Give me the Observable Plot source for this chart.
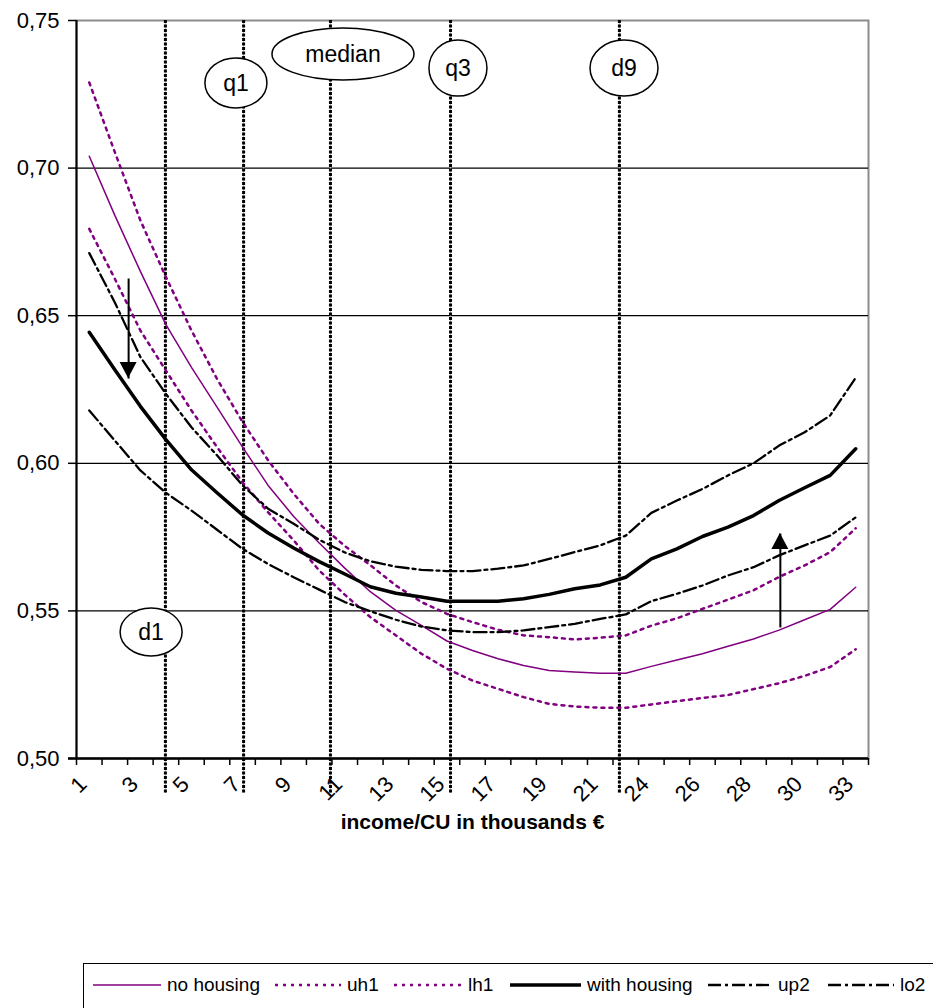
<!DOCTYPE html>
<html><head><meta charset="utf-8">
<script src="https://cdn.jsdelivr.net/npm/d3@7"></script>
<script src="https://cdn.jsdelivr.net/npm/@observablehq/plot@0.6"></script>
<style>
body{margin:0;background:#fff;font-family:"Liberation Sans",Arial,sans-serif;overflow:hidden;width:933px;height:1008px;position:relative}
#legend{position:absolute;left:83px;top:963px;width:880px;height:70px;border:1.5px solid #000;box-sizing:border-box}
.item{position:absolute;top:0;height:42px;display:flex;align-items:center;font-size:19px;color:#000}
.item svg{margin-right:6px}
</style></head><body><div id="chart"></div><div id="legend"></div>
<script>
// ---- data ----
const tickLabels = ["1","3","5","7","9","11","13","15","17","19","21","24","26","28","30","33"];
const seriesNames = ["no housing","uh1","lh1","with housing","up2","lo2"];
const noHousing = [0.704,0.684,0.665,0.647,0.6325,0.619,0.6055,0.5925,0.582,0.573,0.5645,0.5565,0.5502,0.5451,0.5398,0.5366,0.5338,0.5315,0.5298,0.5293,0.5289,0.5289,0.5312,0.5334,0.5355,0.538,0.5405,0.5435,0.547,0.5505,0.558];
const uh1 = [0.729,0.7054,0.6823,0.6631,0.645,0.6286,0.614,0.601,0.5897,0.5795,0.572,0.5655,0.5586,0.553,0.549,0.5462,0.5436,0.5417,0.5411,0.5403,0.5409,0.5417,0.545,0.5475,0.5507,0.5538,0.557,0.5615,0.5654,0.5699,0.578];
const lh1 = [0.6794,0.6625,0.645,0.6314,0.6179,0.6055,0.5936,0.5834,0.5739,0.5637,0.5555,0.5479,0.5417,0.5355,0.5304,0.5264,0.5236,0.5208,0.5185,0.5176,0.5172,0.5172,0.5183,0.5194,0.5205,0.5215,0.5235,0.5255,0.528,0.531,0.537];
const withHousing = [0.6444,0.6317,0.6193,0.608,0.5978,0.59,0.5825,0.5764,0.5713,0.5667,0.5625,0.5582,0.556,0.5547,0.5533,0.5533,0.5533,0.5541,0.5556,0.5575,0.5588,0.5614,0.5676,0.571,0.5752,0.5784,0.5823,0.5874,0.5917,0.5959,0.6049];
const up2 = [0.6712,0.6545,0.636,0.6235,0.6122,0.6027,0.5925,0.5846,0.5795,0.5741,0.5698,0.5668,0.565,0.5639,0.5635,0.5635,0.5643,0.5654,0.5676,0.5699,0.5722,0.5755,0.5832,0.5874,0.5913,0.5959,0.6,0.606,0.6105,0.6162,0.629];
const lo2 = [0.6179,0.6077,0.5976,0.59,0.584,0.5775,0.571,0.5659,0.5614,0.5572,0.553,0.5499,0.547,0.5447,0.5434,0.5428,0.5428,0.5434,0.5445,0.5456,0.5473,0.5488,0.5533,0.5558,0.5586,0.562,0.5648,0.5688,0.5722,0.5755,0.5817];
const yTicks = [0.50,0.55,0.60,0.65,0.70,0.75];
// quantile markers (x in category-index units)
const quantileNames = ["d1","q1","median","q3","d9"];
const quantileX = [2.98,6.04,9.44,14.14,20.75];
const bubbleX = [2.44,5.76,9.95,14.45,20.95];
const bubbleY = [0.5427,0.7287,0.7385,0.7337,0.7337];
// arrows
const arrowX = [1.54,27.05];
const arrowFrom = [0.6626,0.5444];
const arrowTo = [0.6287,0.5762];

// ---- build ----
const allSeries = [noHousing,uh1,lh1,withHousing,up2,lo2];
const rows = [];
allSeries.forEach((vals,s)=>vals.forEach((v,i)=>rows.push({series:seriesNames[s],i,v})));
const nCat = noHousing.length;
const boundaries = d3.range(nCat+1).map(k=>k-0.5);
const labelIdx = tickLabels.map((_,k)=>2*k);

const styles = {
  "no housing":{stroke:"#800080",strokeWidth:1.5},
  "uh1":{stroke:"#800080",strokeWidth:2.5,strokeDasharray:"3,5"},
  "lh1":{stroke:"#800080",strokeWidth:2.5,strokeDasharray:"3,5"},
  "with housing":{stroke:"#000",strokeWidth:3.5},
  "up2":{stroke:"#000",strokeWidth:2.3,strokeDasharray:"13,4,3,4"},
  "lo2":{stroke:"#000",strokeWidth:2.3,strokeDasharray:"13,4,3,4"}
};
const bubbleSize = {d1:[31,24],q1:[31,25],median:[71,26],q3:[29,28],d9:[34,28]};

function bubbles(index, scales){
  const g = d3.create("svg:g");
  quantileNames.forEach((name,k)=>{
    const cx = scales.x(bubbleX[k]), cy = scales.y(bubbleY[k]);
    const [rx,ry] = bubbleSize[name];
    g.append("ellipse").attr("cx",cx).attr("cy",cy).attr("rx",rx).attr("ry",ry)
      .attr("fill","#fff").attr("stroke","#000").attr("stroke-width",1.5);
    g.append("text").attr("x",cx).attr("y",cy).attr("text-anchor","middle")
      .attr("dominant-baseline","central").attr("font-size",23)
      .attr("font-family","Liberation Sans, Arial, sans-serif").text(name);
  });
  return g.node();
}
function arrowHeads(index, scales){
  const g = d3.create("svg:g");
  arrowX.forEach((x,k)=>{
    const px = scales.x(x), py = scales.y(arrowTo[k]);
    const dir = arrowTo[k] < arrowFrom[k] ? 1 : -1; // 1 = pointing down
    const h = 16, w = 8.5;
    g.append("path").attr("d",`M${px},${py}L${px-w},${py-dir*h}L${px+w},${py-dir*h}Z`).attr("fill","#000");
  });
  return g.node();
}

const plot = Plot.plot({
  width:933, height:850,
  marginLeft:76, marginRight:65, marginTop:20, marginBottom:92,
  style:{fontFamily:"Liberation Sans, Arial, sans-serif", fontSize:"22px", background:"#fff"},
  x:{type:"linear", domain:[-0.5,nCat-0.5]},
  y:{domain:[0.5,0.75]},
  marks:[
    Plot.frame({stroke:"#8c8c8c",strokeWidth:2}),
    Plot.ruleY(yTicks.filter(t=>t>0.5&&t<0.75),{stroke:"#000",strokeWidth:1.2}),
    Plot.ruleX(quantileX,{stroke:"#bbb",strokeWidth:1,insetBottom:-35}),
    Plot.ruleX(quantileX,{stroke:"#000",strokeWidth:3,strokeDasharray:"3,1.5",insetBottom:-35}),
    ...seriesNames.map(s=>Plot.line(rows.filter(d=>d.series===s),{x:"i",y:"v",...styles[s]})),
    Plot.ruleX([-0.5],{stroke:"#000",strokeWidth:2}),
    Plot.ruleY([0.5],{stroke:"#000",strokeWidth:2.5,insetLeft:-8}),
    Plot.axisY({ticks:yTicks,tickFormat:d=>d3.format(".2f")(d).replace(".",","),tickSize:8,tickPadding:9,label:null,stroke:"#000",strokeWidth:1.5,fontSize:22}),
    Plot.axisX({ticks:boundaries,tickFormat:()=>"",tickSize:7,label:null,strokeWidth:1.5}),
    Plot.axisX({ticks:labelIdx,tickFormat:i=>tickLabels[i/2],tickSize:0,tickPadding:22,tickRotate:-45,label:null,dx:-6,fontSize:22}),
    Plot.text(["income/CU in thousands €"],{frameAnchor:"bottom",dy:70,fontWeight:"bold",fontSize:21}),
    Plot.link(arrowX.map((x,k)=>({x,y1:arrowFrom[k],y2:arrowTo[k]})),{x1:"x",x2:"x",y1:"y1",y2:"y2",stroke:"#000",strokeWidth:2}),
    arrowHeads,
    bubbles
  ]
});
document.getElementById("chart").appendChild(plot);

// legend
const legendPos = [[92,68],[274,66],[393,68],[509,71],[707,64],[827,66]];
const leg = document.getElementById("legend");
seriesNames.forEach((s,k)=>{
  const st = styles[s];
  const [lx,lw] = legendPos[k];
  const div = document.createElement("div");
  div.className="item";
  div.style.left = (lx-83)+"px";
  div.innerHTML = `<svg width="${lw}" height="10"><line x1="0" y1="5" x2="${lw}" y2="5" stroke="${st.stroke}" stroke-width="${st.strokeWidth}" ${st.strokeDasharray?`stroke-dasharray="${st.strokeDasharray}"`:""}/></svg><span>${s}</span>`;
  leg.appendChild(div);
});
</script></body></html>
